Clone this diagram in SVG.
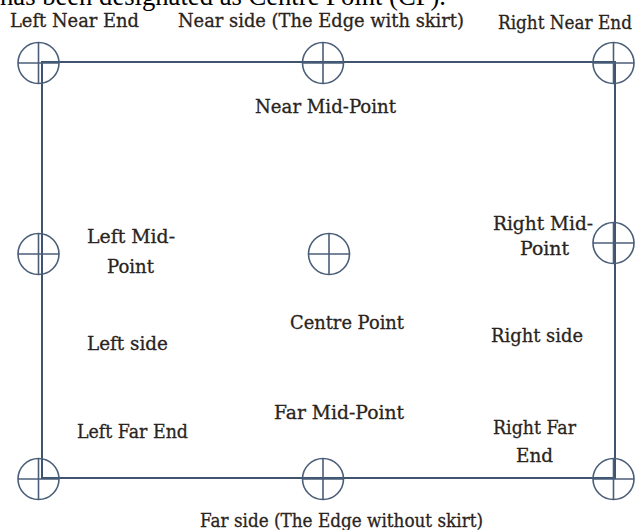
<svg xmlns="http://www.w3.org/2000/svg" xmlns:xlink="http://www.w3.org/1999/xlink" width="636" height="530" viewBox="0 0 636 530">
<style>
.lbl{font-family:"DejaVu Serif","Liberation Serif",serif;font-size:18px;fill:#2a2420;stroke:#2a2420;stroke-width:0.3px;}
.head{font-family:"Liberation Serif","Times New Roman",serif;font-size:26.7px;fill:#000;}
.edge{stroke:#3f546f;stroke-width:2;fill:none;}
.mk{stroke:#4a5e78;stroke-width:1.6;fill:none;}
</style>
<defs>
<g id="cross" class="mk">
<circle cx="0" cy="0" r="20.5"/>
<line x1="-20.5" y1="0" x2="20.5" y2="0"/>
<line x1="0" y1="-20.5" x2="0" y2="20.5"/>
</g>
</defs>
<rect width="636" height="530" fill="#fff"/>
<text class="head" x="0" y="5" textLength="446" lengthAdjust="spacingAndGlyphs">has been designated as Centre Point (CP).</text>
<g id="connectors">
<line class="edge" x1="41" y1="62" x2="615" y2="62"/>
<line class="edge" x1="41" y1="478" x2="615" y2="478"/>
<line class="edge" x1="42" y1="61" x2="42" y2="479"/>
<line class="edge" x1="615" y1="61" x2="615" y2="479"/>
</g>
<g id="left-near-end"><use xlink:href="#cross" x="38.5" y="63"/><text class="lbl" x="10" y="27" textLength="129" lengthAdjust="spacingAndGlyphs">Left Near End</text></g>
<g id="near-side"><text class="lbl" x="178" y="27" textLength="286" lengthAdjust="spacingAndGlyphs">Near side (The Edge with skirt)</text></g>
<g id="right-near-end"><use xlink:href="#cross" x="613.5" y="63"/><text class="lbl" x="498" y="29" textLength="134" lengthAdjust="spacingAndGlyphs">Right Near End</text></g>
<g id="near-mid-point"><use xlink:href="#cross" x="323" y="63"/><text class="lbl" x="255" y="113" textLength="141" lengthAdjust="spacingAndGlyphs">Near Mid-Point</text></g>
<g id="left-mid-point"><use xlink:href="#cross" x="38.5" y="254"/><text class="lbl" x="87" y="243" textLength="88" lengthAdjust="spacingAndGlyphs">Left Mid-</text><text class="lbl" x="107" y="273" textLength="47" lengthAdjust="spacingAndGlyphs">Point</text></g>
<g id="centre-point"><use xlink:href="#cross" x="329" y="254"/><text class="lbl" x="290" y="329" textLength="114" lengthAdjust="spacingAndGlyphs">Centre Point</text></g>
<g id="right-mid-point"><use xlink:href="#cross" x="613.5" y="243"/><text class="lbl" x="493" y="230" textLength="100" lengthAdjust="spacingAndGlyphs">Right Mid-</text><text class="lbl" x="520" y="255" textLength="49" lengthAdjust="spacingAndGlyphs">Point</text></g>
<g id="left-side"><text class="lbl" x="87" y="350" textLength="81" lengthAdjust="spacingAndGlyphs">Left side</text></g>
<g id="right-side"><text class="lbl" x="491" y="342" textLength="92" lengthAdjust="spacingAndGlyphs">Right side</text></g>
<g id="left-far-end"><use xlink:href="#cross" x="38.5" y="479"/><text class="lbl" x="77" y="438" textLength="111" lengthAdjust="spacingAndGlyphs">Left Far End</text></g>
<g id="far-mid-point"><use xlink:href="#cross" x="323" y="479"/><text class="lbl" x="274" y="419" textLength="130" lengthAdjust="spacingAndGlyphs">Far Mid-Point</text></g>
<g id="right-far-end"><use xlink:href="#cross" x="613.5" y="479"/><text class="lbl" x="493" y="434" textLength="83" lengthAdjust="spacingAndGlyphs">Right Far</text><text class="lbl" x="516" y="462" textLength="37" lengthAdjust="spacingAndGlyphs">End</text></g>
<g id="far-side"><text class="lbl" x="200" y="527" textLength="283" lengthAdjust="spacingAndGlyphs">Far side (The Edge without skirt)</text></g>
</svg>
